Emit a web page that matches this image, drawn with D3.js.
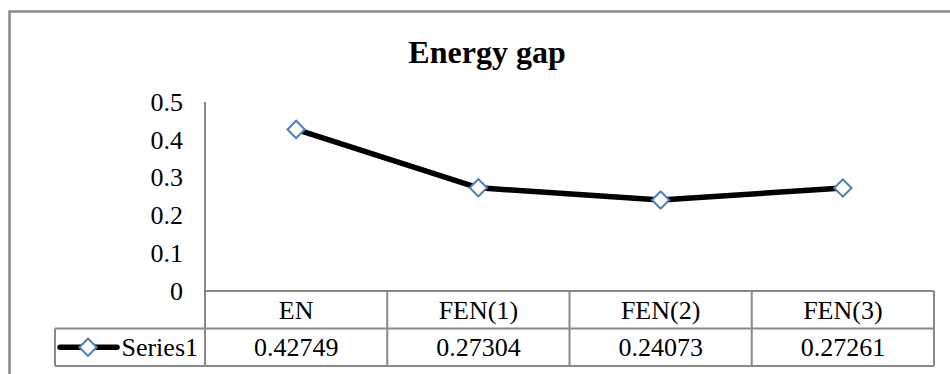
<!DOCTYPE html>
<html>
<head>
<meta charset="utf-8">
<script src="https://cdn.jsdelivr.net/npm/d3@7"></script>
<style>
  body { margin: 0; background: #fff; }
  svg text { font-family: "Liberation Serif", "Times New Roman", Times, "DejaVu Serif", serif; fill: #000; }
</style>
</head>
<body>
<script>
// data
const categories = ["EN", "FEN(1)", "FEN(2)", "FEN(3)"];
const values = [0.42749, 0.27304, 0.24073, 0.27261];
const valueLabels = ["0.42749", "0.27304", "0.24073", "0.27261"];
const yTicks = [0, 0.1, 0.2, 0.3, 0.4, 0.5];
const seriesName = "Series1";
const title = "Energy gap";

const width = 950, height = 374;
const gridColor = "#898989";
const markerColor = "#4a7ebb";
const fontFamily = "'Liberation Serif', 'Times New Roman', Times, 'DejaVu Serif', serif";

const svg = d3.select("body").append("svg")
    .attr("width", width)
    .attr("height", height)
    .attr("font-family", fontFamily);

// chart area border (right/bottom edges fall outside the picture)
svg.append("path")
    .attr("d", "M9.5,380V11.5H960")
    .attr("fill", "none")
    .attr("stroke", gridColor)
    .attr("stroke-width", 2.5);

// title
svg.append("text")
    .attr("x", 487)
    .attr("y", 63)
    .attr("text-anchor", "middle")
    .attr("font-family", fontFamily)
    .attr("font-size", 32)
    .attr("font-weight", "bold")
    .text(title);

const plotLeft = 205, plotRight = 934;
const plotTop = 102, plotBottom = 291;
const rowH = 37.5;

const x = d3.scaleBand()
    .domain(categories)
    .range([plotLeft, plotRight])
    .padding(0);

const y = d3.scaleLinear()
    .domain([0, 0.5])
    .range([plotBottom, plotTop]);

// y axis labels
const yAxis = d3.axisLeft(y)
    .tickValues(yTicks)
    .tickSize(0)
    .tickPadding(22)
    .tickFormat(d3.format("~g"));
const gy = svg.append("g")
    .attr("transform", `translate(${plotLeft},0)`)
    .call(yAxis)
    .attr("font-family", fontFamily)
    .attr("font-size", 26);
gy.select(".domain").remove();
gy.selectAll("text")
    .attr("fill", "#000");

// axis + data table lines
const lines = svg.append("g")
    .attr("stroke", gridColor)
    .attr("stroke-width", 2)
    .attr("fill", "none");

lines.append("line")
    .attr("x1", plotLeft).attr("x2", plotLeft)
    .attr("y1", plotTop).attr("y2", plotBottom + rowH * 2);

// horizontal table lines
lines.append("line")
    .attr("x1", plotLeft).attr("x2", plotRight)
    .attr("y1", plotBottom).attr("y2", plotBottom);
lines.append("line")
    .attr("x1", 55).attr("x2", plotRight)
    .attr("y1", plotBottom + rowH).attr("y2", plotBottom + rowH);
lines.append("line")
    .attr("x1", 55).attr("x2", plotRight)
    .attr("y1", plotBottom + rowH * 2).attr("y2", plotBottom + rowH * 2);
lines.append("line")
    .attr("x1", 55).attr("x2", 55)
    .attr("y1", plotBottom + rowH).attr("y2", plotBottom + rowH * 2);

// vertical column dividers
lines.selectAll(".col")
    .data(categories)
    .enter()
    .append("line")
    .attr("class", "col")
    .attr("x1", (d) => x(d) + x.bandwidth())
    .attr("x2", (d) => x(d) + x.bandwidth())
    .attr("y1", plotBottom)
    .attr("y2", plotBottom + rowH * 2);

// category labels
svg.selectAll(".cat")
    .data(categories)
    .enter()
    .append("text")
    .attr("class", "cat")
    .attr("x", (d) => x(d) + x.bandwidth() / 2)
    .attr("y", plotBottom + rowH / 2)
    .attr("dy", "0.35em")
    .attr("text-anchor", "middle")
    .attr("font-size", 26)
    .text((d) => d);

// value labels
svg.selectAll(".val")
    .data(categories)
    .enter()
    .append("text")
    .attr("class", "val")
    .attr("x", (d) => x(d) + x.bandwidth() / 2)
    .attr("y", plotBottom + rowH * 1.5)
    .attr("dy", "0.35em")
    .attr("text-anchor", "middle")
    .attr("font-size", 26)
    .text((d, i) => valueLabels[i]);

// series line
const pts = categories.map((c, i) => [x(c) + x.bandwidth() / 2, y(values[i])]);
svg.append("path")
    .datum(pts)
    .attr("d", d3.line())
    .attr("fill", "none")
    .attr("stroke", "#000")
    .attr("stroke-width", 5.5)
    .attr("stroke-linejoin", "round");

// diamond markers
const diamond = d3.symbol().type(d3.symbolSquare).size(150);
svg.selectAll(".mark")
    .data(pts)
    .enter()
    .append("path")
    .attr("class", "mark")
    .attr("d", diamond)
    .attr("transform", (d) => `translate(${d[0]},${d[1]}) rotate(45)`)
    .attr("fill", "#fff")
    .attr("stroke", markerColor)
    .attr("stroke-width", 2);

// legend key in table
const ly = plotBottom + rowH * 1.5;
svg.append("line")
    .attr("x1", 60).attr("x2", 117)
    .attr("y1", ly).attr("y2", ly)
    .attr("stroke", "#000")
    .attr("stroke-width", 5.5)
    .attr("stroke-linecap", "round");
svg.append("path")
    .attr("d", diamond)
    .attr("transform", `translate(88,${ly}) rotate(45)`)
    .attr("fill", "#fff")
    .attr("stroke", markerColor)
    .attr("stroke-width", 2);
svg.append("text")
    .attr("x", 198)
    .attr("y", ly)
    .attr("dy", "0.35em")
    .attr("text-anchor", "end")
    .attr("font-size", 26)
    .text(seriesName);
</script>
</body>
</html>
